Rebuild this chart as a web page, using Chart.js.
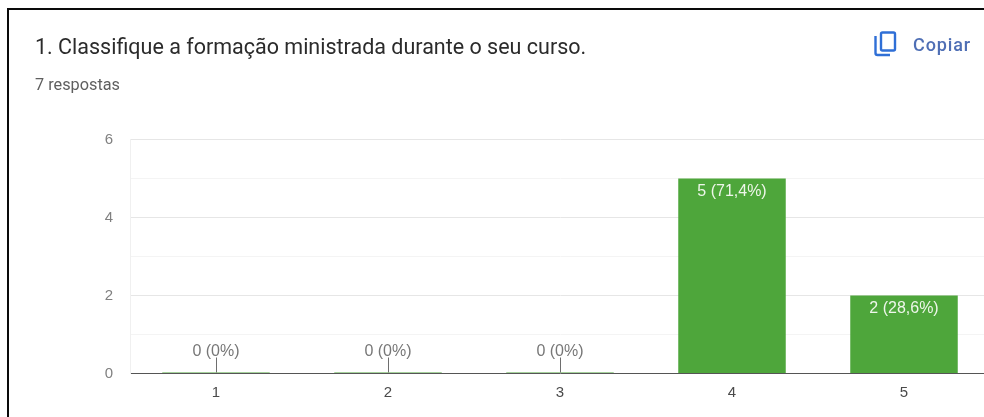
<!DOCTYPE html>
<html>
<head>
<meta charset="utf-8">
<style>
  html, body { margin: 0; padding: 0; background: #fff; overflow: hidden; width: 984px; height: 417px; }
  body { position: relative; font-family: Roboto, sans-serif; }
  #page { position: absolute; left: 0; top: 0; width: 984px; height: 417px; overflow: hidden; filter: blur(0.45px); }
  #frame { position: absolute; left: 7px; top: 8px; right: -10px; bottom: -10px; border: 2px solid #0a0a0a; }
  #chart-box { position: absolute; left: 0; top: 0; width: 990px; height: 417px; }
  #title { position: absolute; left: 35px; top: 34px; font-size: 21.5px; line-height: 26px; color: #2b2b2b; white-space: nowrap; }
  #count { position: absolute; left: 35px; top: 76px; font-size: 16.3px; line-height: 18px; color: #5f5f5f; white-space: nowrap; }
  #copy-icon { position: absolute; left: 873px; top: 30px; }
  #copy { position: absolute; left: 913px; top: 34px; font-size: 18px; letter-spacing: 0.9px; line-height: 22px; color: #4f6fb5; font-weight: 500; white-space: nowrap; }
</style>
</head>
<body>
<div id="page">
<div id="chart-box"><canvas id="bar-chart" width="990" height="417"></canvas></div>
<div id="frame"></div>
<div id="title">1. Classifique a formação ministrada durante o seu curso.</div>
<div id="count">7 respostas</div>
<svg id="copy-icon" width="24" height="28" viewBox="0 0 24 28" fill="none" stroke="#2f6fd6" stroke-width="2.4">
  <rect x="8" y="2.5" width="14" height="18" rx="1.5"></rect>
  <path d="M2.5 6 V23 a2 2 0 0 0 2 2 H17"></path>
</svg>
<div id="copy">Copiar</div>
</div>
<script src="https://cdn.jsdelivr.net/npm/chart.js@4"></script>
<script>
var categories = ['1', '2', '3', '4', '5'];
var answers = [0, 0, 0, 5, 2];
var bar_labels = ['0 (0%)', '0 (0%)', '0 (0%)', '5 (71,4%)', '2 (28,6%)'];
var y_ticks = [0, 2, 4, 6];

// rotulos por cima das barras, com a linha guia nas barras a zero
var bar_label_plugin = {
  id: 'barLabels',
  afterDatasetsDraw: function(chart) {
    var ctx = chart.ctx;
    var meta = chart.getDatasetMeta(0);
    ctx.save();
    ctx.font = '16px "Liberation Sans", Arial, sans-serif';
    ctx.textAlign = 'center';
    meta.data.forEach(function(bar, i) {
      if (answers[i] === 0) {
        ctx.strokeStyle = '#6e6e6e';
        ctx.lineWidth = 1;
        ctx.beginPath();
        ctx.moveTo(Math.round(bar.x) + 0.5, bar.y - 15);
        ctx.lineTo(Math.round(bar.x) + 0.5, bar.y);
        ctx.stroke();
        ctx.fillStyle = '#777777';
        ctx.fillText(bar_labels[i], bar.x, bar.y - 17);
      } else {
        ctx.fillStyle = '#eef6ea';
        ctx.fillText(bar_labels[i], bar.x, bar.y + 17.5);
      }
    });
    ctx.restore();
  }
};

var config = {
  type: 'bar',
  data: {
    labels: categories,
    datasets: [{
      data: answers,
      backgroundColor: '#4ea63b',
      minBarLength: 1,
      categoryPercentage: 1,
      barPercentage: 0.625
    }]
  },
  plugins: [bar_label_plugin],
  options: {
    responsive: false,
    animation: false,
    layout: { padding: { top: 139.5, right: 0, bottom: 0, left: 0 } },
    plugins: { legend: { display: false }, tooltip: { enabled: false } },
    scales: {
      x: {
        afterFit: function(scale) { scale.height = 43.5; },
        grid: { display: false, drawTicks: false },
        border: { color: '#555555', width: 1 },
        ticks: { color: '#4a4a4a', padding: 10, font: { family: 'Liberation Sans', size: 15 } }
      },
      y: {
        min: 0,
        max: 6,
        afterFit: function(scale) { scale.width = 130; },
        grid: {
          drawTicks: false,
          color: function(c) {
            if (c.tick.value === 0) return 'rgba(0,0,0,0)';
            return y_ticks.indexOf(c.tick.value) >= 0 ? '#e6e6e6' : '#f4f4f4';
          }
        },
        border: { color: '#f0f0f0', width: 1 },
        ticks: {
          stepSize: 1,
          color: '#808080',
          padding: 17,
          font: { family: 'Liberation Sans', size: 15 },
          callback: function(v) { return y_ticks.indexOf(v) >= 0 ? v : ''; }
        }
      }
    }
  }
};

window.myBar = new Chart(document.getElementById('bar-chart').getContext('2d'), config);
</script>
</body>
</html>
